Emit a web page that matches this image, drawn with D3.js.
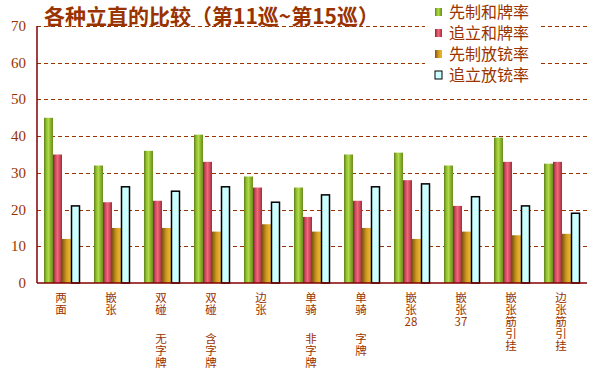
<html>
<head>
<meta charset="utf-8">
<title>各种立直的比较</title>
<style>
  body { margin: 0; background: white; }
  text { fill: #993300; font-family: "Liberation Serif", "Noto Sans CJK SC", serif; }
  .cjk { font-family: "Noto Sans CJK SC", sans-serif; }
</style>
<script src="https://cdn.jsdelivr.net/npm/d3@7"></script>
</head>
<body>
<div id="chart"></div>
<script>
// categories: each entry is the label split into vertical lines ("" = gap)
var categories = [
    ["两", "面"],
    ["嵌", "张"],
    ["双", "碰", "", "无", "字", "牌"],
    ["双", "碰", "", "含", "字", "牌"],
    ["边", "张"],
    ["单", "骑", "", "非", "字", "牌"],
    ["单", "骑", "", "字", "牌"],
    ["嵌", "张", "28"],
    ["嵌", "张", "37"],
    ["嵌", "张", "筋", "引", "挂"],
    ["边", "张", "筋", "引", "挂"]
];
var seriesNames = ["先制和牌率", "追立和牌率", "先制放铳率", "追立放铳率"];
var xianHe = [45, 32, 36, 40.4, 29, 26, 35, 35.5, 32, 39.6, 32.5];
var zhuiHe = [35, 22, 22.4, 33, 26, 18, 22.4, 28, 21, 33, 33];
var xianChong = [12, 15, 15, 14, 16, 14, 15, 12, 14, 13, 13.4];
var zhuiChong = [21, 26.2, 25, 26.2, 22, 24, 26.2, 27, 23.5, 21, 19];
var yTicks = [0, 10, 20, 30, 40, 50, 60, 70];

var series = [xianHe, zhuiHe, xianChong, zhuiChong];

var width = 603, height = 375;
var svg = d3.select('#chart').append('svg')
    .attr('width', width)
    .attr('height', height);

// bar gradients
var defs = svg.append('defs');
var grads = [
    ['g0', ['#5f7d1c', '#8fbf2e', '#b0d84a', '#87b12c', '#6a8c22']],
    ['g1', ['#7a2a38', '#c8485a', '#f06878', '#d04a5c', '#8e3040']],
    ['g2', ['#7a5410', '#a87818', '#d09a20', '#e2ac2c', '#e8b030']]
];
grads.forEach(function(g) {
    var lg = defs.append('linearGradient').attr('id', g[0])
        .attr('x1', 0).attr('x2', 1).attr('y1', 0).attr('y2', 0);
    g[1].forEach(function(c, i) {
        lg.append('stop').attr('offset', i / (g[1].length - 1)).attr('stop-color', c);
    });
});
var fills = ['url(#g0)', 'url(#g1)', 'url(#g2)', '#ccffff'];

var x = d3.scaleBand()
    .domain(d3.range(categories.length))
    .range([37, 587])
    .paddingInner(0.28)
    .paddingOuter(0.14);

var xs = d3.scaleBand()
    .domain(d3.range(series.length))
    .range([0, x.bandwidth()]);

var y = d3.scaleLinear()
    .domain([0, 70])
    .range([283, 26]);

// gridlines
svg.append('g').selectAll('line')
    .data(yTicks.slice(1))
    .enter().append('line')
    .attr('x1', 37).attr('x2', 587)
    .attr('y1', function(d) { return Math.round(y(d)) + 0.5; })
    .attr('y2', function(d) { return Math.round(y(d)) + 0.5; })
    .attr('stroke', '#993300')
    .attr('stroke-width', 1)
    .attr('stroke-dasharray', '4,3');

// y tick labels
svg.append('g').selectAll('text')
    .data(yTicks)
    .enter().append('text')
    .attr('x', 26)
    .attr('y', function(d) { return y(d) + 5; })
    .attr('text-anchor', 'end')
    .style('font-size', '15px')
    .text(function(d) { return d; });

// bars
series.forEach(function(vals, si) {
    svg.append('g').selectAll('rect')
        .data(vals)
        .enter().append('rect')
        .attr('x', function(d, i) { return x(i) + xs(si) + (si == 3 ? 0.5 : 0); })
        .attr('y', function(d) { return y(d); })
        .attr('width', xs.bandwidth() - (si == 3 ? 1 : 0))
        .attr('height', function(d) { return y(0) - y(d); })
        .attr('fill', fills[si])
        .attr('stroke', si == 3 ? 'black' : 'none')
        .attr('stroke-width', 1.5);
});

// axes lines
svg.append('line')
    .attr('x1', 37).attr('x2', 37)
    .attr('y1', y(70)).attr('y2', y(0))
    .attr('stroke', '#800000').attr('stroke-width', 1.5);
svg.append('line')
    .attr('x1', 37).attr('x2', 587)
    .attr('y1', y(0)).attr('y2', y(0))
    .attr('stroke', '#800000').attr('stroke-width', 1.5);

// x labels (vertical, one char per line, one text element per category)
categories.forEach(function(lines, i) {
    var cx = x(i) + x.bandwidth() / 2 - 1;
    var t = svg.append('text')
        .attr('class', 'cjk')
        .attr('x', cx)
        .attr('y', 302)
        .attr('text-anchor', 'middle')
        .style('font-size', '11.5px');
    var dy = 0, first = true;
    lines.forEach(function(s) {
        if (s === '') { dy += 17; return; }
        t.append('tspan')
            .attr('x', cx)
            .attr('dy', first ? 0 : dy + 12)
            .text(s);
        first = false;
        dy = 0;
    });
});

// title
svg.append('text')
    .attr('class', 'cjk')
    .attr('x', 44)
    .attr('y', 24)
    .style('font-size', '21px')
    .style('font-weight', 'bold')
    .text('各种立直的比较（第11巡~第15巡）');

// legend
var legend = svg.append('g');
legend.append('rect')
    .attr('x', 425).attr('y', 0)
    .attr('width', 116).attr('height', 88)
    .attr('fill', 'white');
seriesNames.forEach(function(name, i) {
    var cy = 12 + i * 21;
    legend.append('rect')
        .attr('x', 435).attr('y', cy - 4)
        .attr('width', 7).attr('height', 8)
        .attr('fill', fills[i])
        .attr('stroke', i == 3 ? 'black' : 'none')
        .attr('stroke-width', 1);
    legend.append('text')
        .attr('class', 'cjk')
        .attr('x', 449)
        .attr('y', cy + 6)
        .style('font-size', '16px')
        .text(name);
});
</script>
</body>
</html>
